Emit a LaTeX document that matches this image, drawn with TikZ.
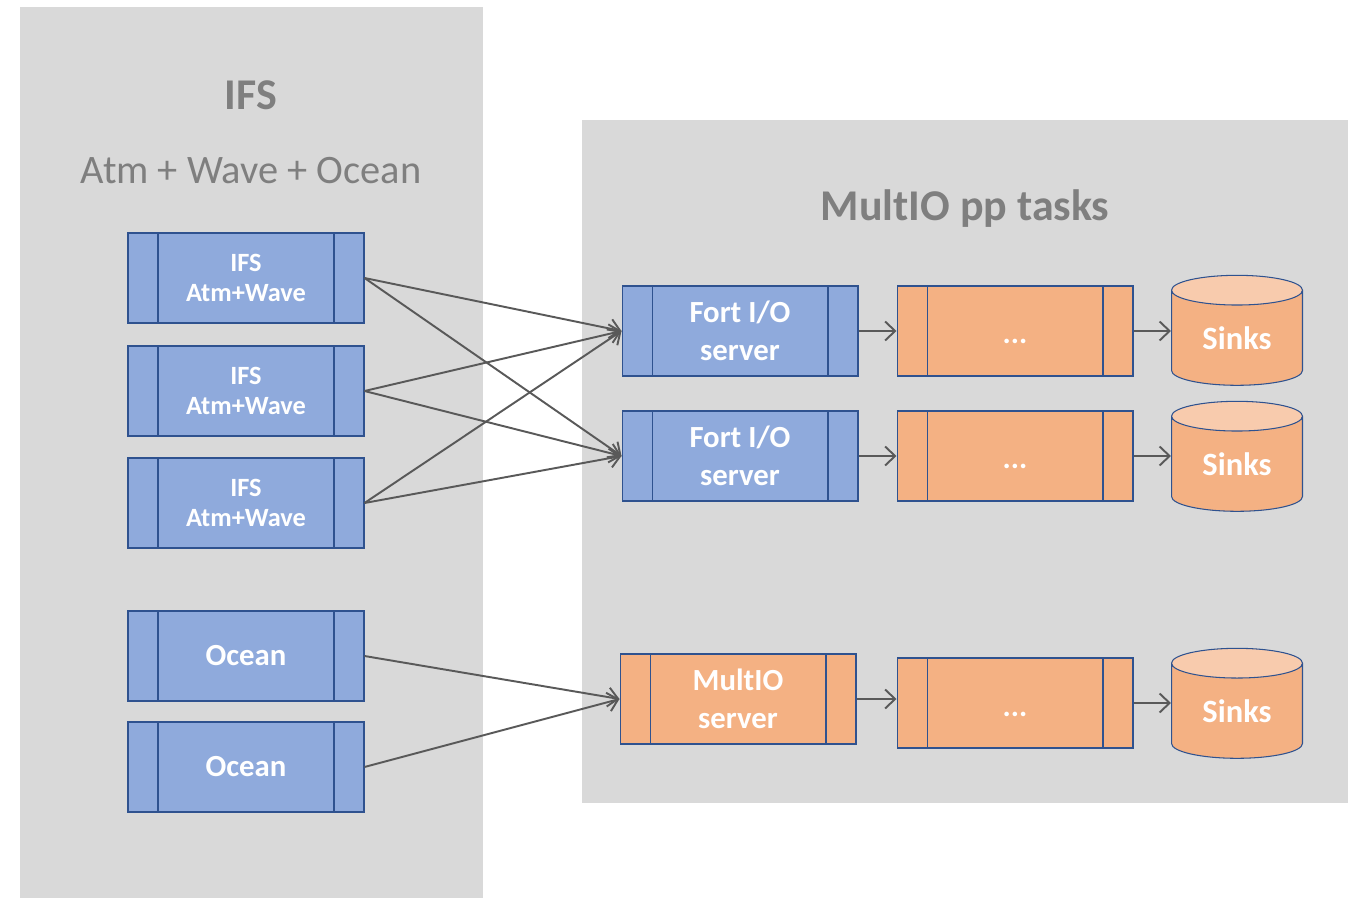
\documentclass[tikz,border=0pt]{standalone}
\usepackage{fontspec}
\setmainfont{Carlito}
\usetikzlibrary{shapes.geometric, arrows.meta}

\definecolor{panelgray}{HTML}{D9D9D9}
\definecolor{titlegray}{HTML}{7F7F7F}
\definecolor{boxblue}{HTML}{8FAADC}
\definecolor{boxorange}{HTML}{F4B183}
\definecolor{sinktop}{HTML}{F8CBAD}
\definecolor{edgeblue}{HTML}{2F528F}
\definecolor{arrowgray}{HTML}{595959}

\begin{document}
\begin{tikzpicture}[x=0.02cm, y=-0.02cm,
  procbox/.style={draw=edgeblue, line width=0.6pt, minimum width=4.72cm,
    minimum height=1.8cm, inner sep=0pt, text=white, align=center,
    path picture={\draw[edgeblue, line width=0.6pt]
      ([xshift=0.6cm]path picture bounding box.north west) --
      ([xshift=0.6cm]path picture bounding box.south west)
      ([xshift=-0.6cm]path picture bounding box.north east) --
      ([xshift=-0.6cm]path picture bounding box.south east);}},
  ifsbox/.style={procbox, fill=boxblue, font=\fontsize{15}{17}\selectfont\bfseries},
  fortbox/.style={procbox, fill=boxblue, font=\fontsize{17.5}{21.5}\selectfont\bfseries},
  taskbox/.style={procbox, fill=boxorange, font=\fontsize{17.5}{21.5}\selectfont\bfseries},
  sinkdb/.style={cylinder, shape border rotate=90, aspect=0.43, draw=edgeblue,
    line width=0.6pt, minimum width=2.62cm, minimum height=2.2cm, inner sep=0pt,
    cylinder uses custom fill, cylinder body fill=boxorange,
    cylinder end fill=sinktop, text=white,
    font=\fontsize{18.5}{22}\selectfont\bfseries},
  flow/.style={draw=arrowgray, line width=1.1pt,
    -{Straight Barb[length=2mm, width=3.8mm, line width=1.1pt]}}]

  \useasboundingbox (0,0) rectangle (1355,898);

  % Panels
  \fill[panelgray] (20,7) rectangle (483,898);
  \fill[panelgray] (582,120) rectangle (1348,803);

  % Panel titles
  \node[text=titlegray, font=\fontsize{25}{30}\selectfont\bfseries] (ifstitle) at (251,95) {IFS};
  \node[text=titlegray, font=\fontsize{23}{27}\selectfont] (ifssub) at (251,171) {Atm + Wave + Ocean};
  \node[text=titlegray, font=\fontsize{25}{30}\selectfont\bfseries] (pptitle) at (965,209) {MultIO pp tasks};

  % IFS tasks
  \node[ifsbox] (ifsA) at (246,278) {IFS\\Atm+Wave};
  \node[ifsbox] (ifsB) at (246,391) {IFS\\Atm+Wave};
  \node[ifsbox] (ifsC) at (246,503) {IFS\\Atm+Wave};
  \node[fortbox] (oceanA) at (246,656) {Ocean};
  \node[fortbox] (oceanB) at (246,767) {Ocean};

  % Servers
  \node[fortbox] (fortA) at (740,331) {Fort I/O\\server};
  \node[fortbox] (fortB) at (740,456) {Fort I/O\\server};
  \node[taskbox] (multio) at (738,699) {MultIO\\server};

  % pp tasks
  \node[taskbox] (dotsA) at (1015,331) {\smash{\raisebox{-0.26cm}{...}}};
  \node[taskbox] (dotsB) at (1015,456) {\smash{\raisebox{-0.26cm}{...}}};
  \node[taskbox] (dotsC) at (1015,703) {\smash{\raisebox{-0.26cm}{...}}};

  % Sinks
  \node[sinkdb] (sinkA) at (1237,338) {Sinks};
  \node[sinkdb] (sinkB) at (1237,464) {Sinks};
  \node[sinkdb] (sinkC) at (1237,711) {Sinks};

  % IFS -> Fort I/O
  \draw[flow] (ifsA.east) -- (fortA.west);
  \draw[flow] (ifsA.east) -- (fortB.west);
  \draw[flow] (ifsB.east) -- (fortA.west);
  \draw[flow] (ifsB.east) -- (fortB.west);
  \draw[flow] (ifsC.east) -- (fortA.west);
  \draw[flow] (ifsC.east) -- (fortB.west);
  % Ocean -> MultIO
  \draw[flow] (oceanA.east) -- (multio.west);
  \draw[flow] (oceanB.east) -- (multio.west);
  % Servers -> pp tasks -> sinks
  \draw[flow] (fortA.east) -- (dotsA.west);
  \draw[flow] (fortB.east) -- (dotsB.west);
  \draw[flow] (multio.east) -- (multio.east -| dotsC.west);
  \draw[flow] (dotsA.east) -- (dotsA.east -| sinkA.west);
  \draw[flow] (dotsB.east) -- (dotsB.east -| sinkB.west);
  \draw[flow] (dotsC.east) -- (dotsC.east -| sinkC.west);
\end{tikzpicture}
\end{document}
